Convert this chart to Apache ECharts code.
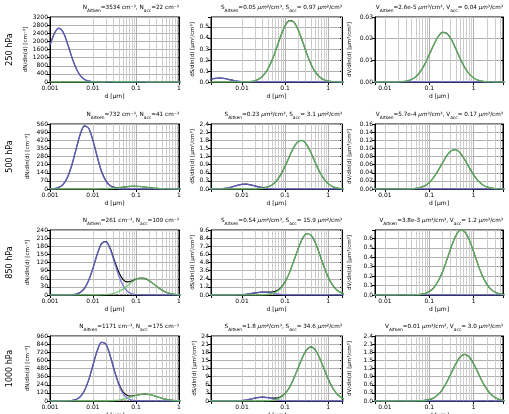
<!DOCTYPE html>
<html>
<head>
<meta charset="utf-8">
<script src="https://cdn.jsdelivr.net/npm/echarts/dist/echarts.min.js"></script>
<style>
html, body { margin: 0; padding: 0; background: #fff; }
#main { width: 509px; height: 414px; }
</style>
</head>
<body>
<div id="main"></div>
<script>
// 粒径网格 d [µm]
const diameters = [0.001, 0.00126, 0.00158, 0.002, 0.00251, 0.00316, 0.00398, 0.00501, 0.00631, 0.00794,
  0.01, 0.0126, 0.0158, 0.02, 0.0251, 0.0316, 0.0398, 0.0501, 0.0631, 0.0794,
  0.1, 0.126, 0.158, 0.2, 0.251, 0.316, 0.398, 0.501, 0.631, 0.794,
  1, 1.26, 1.58, 2, 2.51, 3.16, 3.98, 5.01];

const levels = ['250 hPa', '500 hPa', '850 hPa', '1000 hPa'];

// 250 hPa
const nAit250 = [1807, 2386, 2648, 2470, 1937, 1277, 708, 330, 129, 42,
  12, 3, 0.5, 0, 0, 0, 0, 0, 0, 0,
  0, 0, 0, 0, 0, 0, 0, 0, 0, 0,
  0, 0, 0, 0, 0, 0, 0, 0];
const nAcc250 = [0, 0, 0, 0, 0, 0, 0, 0.04, 0.1, 0.28,
  0.66, 1.4, 2.7, 4.5, 6.9, 9.5, 11.6, 12.6, 12.4, 10.8,
  8.5, 5.9, 3.7, 2.1, 1.05, 0.47, 0.19, 0.07, 0, 0,
  0, 0, 0, 0, 0, 0, 0, 0];
const sAit250 = [0.0053, 0.011, 0.0191, 0.028, 0.0345, 0.0357, 0.0311, 0.0228, 0.014, 0.0072,
  0.0031, 0.0012, 0.0004, 0.0001, 0, 0, 0, 0, 0, 0,
  0, 0, 0, 0, 0, 0, 0, 0, 0, 0,
  0, 0, 0, 0, 0, 0, 0, 0];
const sAcc250 = [0, 0, 0, 0, 0, 0, 0, 0, 0, 0,
  0, 0.0016, 0.0046, 0.012, 0.029, 0.062, 0.118, 0.2, 0.306, 0.417,
  0.51, 0.557, 0.545, 0.477, 0.374, 0.262, 0.164, 0.092, 0.046, 0.021,
  0.0083, 0.003, 0.001, 0, 0, 0, 0, 0];
const vAit250 = [0, 1.7e-6, 3.8e-6, 7.4e-6, 1.2e-5, 1.6e-5, 1.9e-5, 1.8e-5, 1.5e-5, 1.0e-5,
  5.8e-6, 2.8e-6, 1.1e-6, 0, 0, 0, 0, 0, 0, 0,
  0, 0, 0, 0, 0, 0, 0, 0, 0, 0,
  0, 0, 0, 0, 0, 0, 0, 0];
const vAcc250 = [0, 0, 0, 0, 0, 0, 0, 0, 0, 0,
  0, 0, 0, 0, 0.0002, 0.0005, 0.0012, 0.0025, 0.0048, 0.0082,
  0.0126, 0.0171, 0.0209, 0.0229, 0.0224, 0.0196, 0.0153, 0.0107, 0.0067, 0.0038,
  0.0019, 0.00085, 0.00034, 0.00012, 0.00004, 0, 0, 0];

// 500 hPa
const nAit500 = [0.8, 3.6, 12.9, 38.5, 95, 196, 333, 467, 544, 523,
  417, 275, 150, 68, 25.4, 7.9, 2.0, 0.4, 0, 0,
  0, 0, 0, 0, 0, 0, 0, 0, 0, 0,
  0, 0, 0, 0, 0, 0, 0, 0];
const nAcc500 = [0, 0, 0, 0, 0, 0, 0, 0, 0, 0,
  0.13, 0.36, 0.89, 2.0, 3.9, 7.0, 11.2, 16.0, 20.4, 23.4,
  23.9, 21.8, 17.9, 13.1, 8.6, 5.0, 2.6, 1.24, 0.52, 0.2,
  0.07, 0, 0, 0, 0, 0, 0, 0];
const sAit500 = [0, 0, 0.0001, 0.0007, 0.0026, 0.0084, 0.022, 0.049, 0.09, 0.137,
  0.172, 0.179, 0.153, 0.109, 0.064, 0.031, 0.0127, 0.0042, 0.0012, 0.0003,
  0, 0, 0, 0, 0, 0, 0, 0, 0, 0,
  0, 0, 0, 0, 0, 0, 0, 0];
const sAcc500 = [0, 0, 0, 0, 0, 0, 0, 0, 0, 0,
  0, 0, 0, 0, 0.0097, 0.027, 0.067, 0.149, 0.30, 0.53,
  0.84, 1.20, 1.53, 1.75, 1.79, 1.64, 1.34, 0.98, 0.64, 0.38,
  0.198, 0.093, 0.039, 0.015, 0.005, 0, 0, 0];
const vAit500 = [0, 0, 0, 0, 0, 0, 0.00002, 0.00006, 0.00012, 0.00023,
  0.00034, 0.00043, 0.00045, 0.00038, 0.00027, 0.00016, 0.00008, 0.00003, 0, 0,
  0, 0, 0, 0, 0, 0, 0, 0, 0, 0,
  0, 0, 0, 0, 0, 0, 0, 0];
const vAcc500 = [0, 0, 0, 0, 0, 0, 0, 0, 0, 0,
  0, 0, 0, 0, 0, 0, 0.0005, 0.0014, 0.0036, 0.008,
  0.0159, 0.0284, 0.0453, 0.0647, 0.0826, 0.0944, 0.0965, 0.0883, 0.0723, 0.053,
  0.0347, 0.0204, 0.0107, 0.005, 0.0021, 0.0008, 0.0003, 0.0001];

// 850 hPa
const nAit850 = [0, 0, 0, 0, 0.15, 0.7, 2.9, 9.2, 24.6, 54,
  99, 151, 189, 196, 169, 120, 71, 34.5, 13.9, 4.7,
  1.3, 0.3, 0.06, 0, 0, 0, 0, 0, 0, 0,
  0, 0, 0, 0, 0, 0, 0, 0];
const nAcc850 = [0, 0, 0, 0, 0, 0, 0, 0, 0, 0,
  0, 0.18, 0.52, 1.37, 3.3, 6.9, 13.2, 22.6, 34.4, 46.9,
  57.3, 62.7, 61.3, 53.7, 42.0, 29.4, 18.5, 10.3, 5.2, 2.3,
  0.94, 0.34, 0.11, 0, 0, 0, 0, 0];
const sAit850 = [0, 0, 0, 0, 0, 0, 0.0003, 0.0015, 0.0059, 0.019,
  0.051, 0.112, 0.206, 0.312, 0.392, 0.407, 0.349, 0.249, 0.146, 0.071,
  0.029, 0.0096, 0.0027, 0.0006, 0, 0, 0, 0, 0, 0,
  0, 0, 0, 0, 0, 0, 0, 0];
const sAcc850 = [0, 0, 0, 0, 0, 0, 0, 0, 0, 0,
  0, 0, 0, 0, 0, 0.025, 0.075, 0.20, 0.47, 1.0,
  1.91, 3.26, 4.97, 6.78, 8.28, 9.05, 8.85, 7.75, 6.07, 4.25,
  2.67, 1.49, 0.75, 0.34, 0.136, 0.049, 0.015, 0.004];
const vAit850 = [0, 0, 0, 0, 0, 0, 0, 0, 0, 0,
  0.00007, 0.0002, 0.0005, 0.001, 0.0018, 0.0025, 0.0029, 0.0028, 0.0022, 0.0015,
  0.0008, 0.00036, 0.00013, 0.00004, 0, 0, 0, 0, 0, 0,
  0, 0, 0, 0, 0, 0, 0, 0];
const vAcc850 = [0, 0, 0, 0, 0, 0, 0, 0, 0, 0,
  0, 0, 0, 0, 0, 0, 0, 0.0019, 0.0057, 0.015,
  0.036, 0.076, 0.145, 0.247, 0.377, 0.514, 0.628, 0.687, 0.671, 0.588,
  0.46, 0.322, 0.202, 0.113, 0.057, 0.026, 0.010, 0.0037];

// 1000 hPa
const nAit1000 = [0, 0, 0, 0.25, 1.3, 5.7, 20.6, 61.5, 152, 312,
  531, 746, 868, 836, 666, 439, 240, 108, 40.6, 12.6,
  3.2, 0.7, 0.12, 0, 0, 0, 0, 0, 0, 0,
  0, 0, 0, 0, 0, 0, 0, 0];
const nAcc1000 = [0, 0, 0, 0, 0, 0, 0, 0, 0, 0,
  0, 0, 0.39, 1.1, 2.9, 6.6, 13.6, 25.1, 41.5, 61.3,
  80.9, 95.5, 101, 95.5, 80.9, 61.3, 41.5, 25.1, 13.6, 6.6,
  2.9, 1.1, 0.39, 0.12, 0, 0, 0, 0];
const sAit1000 = [0, 0, 0, 0, 0, 0, 0.001, 0.005, 0.02, 0.065,
  0.174, 0.384, 0.703, 1.065, 1.337, 1.389, 1.193, 0.85, 0.5, 0.244,
  0.098, 0.033, 0.009, 0.002, 0, 0, 0, 0, 0, 0,
  0, 0, 0, 0, 0, 0, 0, 0];
const sAcc1000 = [0, 0, 0, 0, 0, 0, 0, 0, 0, 0,
  0, 0, 0, 0, 0, 0.024, 0.077, 0.22, 0.57, 1.31,
  2.7, 4.98, 8.2, 12.1, 16.0, 18.9, 20, 18.9, 16.0, 12.1,
  8.2, 4.98, 2.7, 1.31, 0.57, 0.22, 0.077, 0.024];
const vAit1000 = [0, 0, 0, 0, 0, 0, 0, 0, 0.00003, 0.0001,
  0.00035, 0.0009, 0.0021, 0.0038, 0.0057, 0.0072, 0.0074, 0.0064, 0.0046, 0.0027,
  0.0013, 0.0005, 0.00018, 0.00005, 0, 0, 0, 0, 0, 0,
  0, 0, 0, 0, 0, 0, 0, 0];
const vAcc1000 = [0, 0, 0, 0, 0, 0, 0, 0, 0, 0,
  0, 0, 0, 0, 0, 0, 0, 0.002, 0.0066, 0.019,
  0.049, 0.113, 0.232, 0.428, 0.707, 1.044, 1.378, 1.627, 1.72, 1.627,
  1.378, 1.044, 0.707, 0.428, 0.232, 0.113, 0.049, 0.019];

// 标题中的积分值
const nAitTot = ['3534', '732', '261', '1171'];
const nAccTot = ['22', '41', '109', '175'];
const sAitTot = ['0.05', '0.23', '0.54', '1.8'];
const sAccTot = ['0.97', '3.1', '15.9', '34.6'];
const vAitTot = ['2.6e-5', '5.7e-4', '3.8e-3', '0.01'];
const vAccTot = ['0.04', '0.17', '1.2', '3.0'];

// y 轴刻度
const yMax = [[3200, 0.59, 0.03], [560, 2.4, 0.16], [240, 9.6, 0.69], [960, 24, 2.4]];
const yStep = [[400, 0.1, 0.01], [70, 0.3, 0.02], [30, 1.2, 0.1], [120, 3, 0.3]];
const yDigits = [[0, 1, 2], [0, 1, 2], [0, 1, 1], [0, 0, 1]];

const aitken = [
  [nAit250, sAit250, vAit250],
  [nAit500, sAit500, vAit500],
  [nAit850, sAit850, vAit850],
  [nAit1000, sAit1000, vAit1000]
];
const accum = [
  [nAcc250, sAcc250, vAcc250],
  [nAcc500, sAcc500, vAcc500],
  [nAcc850, sAcc850, vAcc850],
  [nAcc1000, sAcc1000, vAcc1000]
];

// 布局
const FONT = 'DejaVu Sans';
const colLeft = [50, 211, 375];
const colWidth = [129, 131, 128];
const rowTop = [17, 124, 230, 336];
const plotH = 65;
const xRange = [[0.001, 1], [0.0019, 2.1], [0.006, 4.6]];
const yNames = ['dN/dln(d) [cm\u207B\u00B3]', 'dS/dln(d) [\u00B5m\u00B2/cm\u00B3]', 'dV/dln(d) [\u00B5m\u00B3/cm\u00B3]'];
const yNameGap = [19, 13, 22];

function titleText(r, c) {
  if (c === 0) {
    return '{m|N}{s|Aitken}{m|=' + nAitTot[r] + ' cm\u207B\u00B3, N}{s|acc}{m|=' + nAccTot[r] + ' cm\u207B\u00B3}';
  }
  const q = c === 1 ? 'S' : 'V';
  const sq = c === 1 ? '\u00B2' : '\u00B3';
  const a = c === 1 ? sAitTot[r] : vAitTot[r];
  const b = c === 1 ? sAccTot[r] : vAccTot[r];
  return '{m|' + q + '}{s|Aitken}{m|=' + a + ' }{i|\u03BCm}{m|' + sq + '/cm\u00B3, ' + q + '}{s|acc}{m|= ' + b + ' }{i|\u03BCm}{m|' + sq + '/cm\u00B3}';
}

function minorTicks(lo, hi) {
  const out = [];
  for (let e = -4; e <= 1; e++) {
    for (let m = 2; m <= 9; m++) {
      const v = m * Math.pow(10, e);
      if (v > lo * 1.001 && v < hi * 0.999) out.push({ xAxis: v });
    }
  }
  return out;
}

const chart = echarts.init(document.getElementById('main'));

const grid = [], xAxis = [], yAxis = [], series = [], title = [], graphic = [];

for (let r = 0; r < 4; r++) {
  for (let c = 0; c < 3; c++) {
    const idx = r * 3 + c;
    const step = yStep[r][c];
    const digits = yDigits[r][c];

    grid.push({
      left: colLeft[c], top: rowTop[r], width: colWidth[c], height: plotH,
      show: true, borderColor: '#000', borderWidth: 1, backgroundColor: 'transparent',
      outerBoundsMode: 'none', containLabel: false
    });

    xAxis.push({
      gridIndex: idx, type: 'log', logBase: 10,
      min: xRange[c][0], max: xRange[c][1],
      axisLine: { show: true, lineStyle: { color: '#000', width: 1 } },
      axisTick: { show: true, length: 3, inside: false, lineStyle: { color: '#000' } },
      axisLabel: {
        fontSize: 6, color: '#000', margin: 3, fontFamily: FONT,
        formatter: v => {
          const l = Math.log10(v);
          return Math.abs(l - Math.round(l)) < 1e-6 ? String(Math.pow(10, Math.round(l))) : '';
        }
      },
      splitLine: { show: true, lineStyle: { color: '#b0b0b0', width: 1 } },
      name: 'd [\u00B5m]', nameLocation: 'middle', nameGap: 11,
      nameTextStyle: { fontSize: 6, color: '#000', fontFamily: FONT }
    });

    // 左侧主 y 轴
    yAxis.push({
      gridIndex: idx, type: 'value', min: 0, max: yMax[r][c], interval: step,
      axisLine: { show: true, lineStyle: { color: '#000', width: 1 } },
      axisTick: { show: true, length: 3, lineStyle: { color: '#000' } },
      axisLabel: {
        fontSize: 6, color: '#000', margin: 2, fontFamily: FONT,
        formatter: v => Math.abs(v / step - Math.round(v / step)) < 1e-6 ? v.toFixed(digits) : ''
      },
      splitLine: { show: true, lineStyle: { color: '#b0b0b0', width: 1 } },
      name: yNames[c], nameLocation: 'middle', nameGap: yNameGap[c],
      nameTextStyle: { fontSize: 5.5, color: '#000', fontFamily: FONT }
    });
  }
}

// 右侧只画刻度的 y 轴
for (let r = 0; r < 4; r++) {
  for (let c = 0; c < 3; c++) {
    const idx = r * 3 + c;
    yAxis.push({
      gridIndex: idx, type: 'value', position: 'right', min: 0, max: yMax[r][c], interval: yStep[r][c],
      axisLine: { show: true, lineStyle: { color: '#000', width: 1 } },
      axisTick: { show: true, inside: true, length: 2, lineStyle: { color: '#000' } },
      axisLabel: { show: false },
      splitLine: { show: false }
    });
  }
}

for (let r = 0; r < 4; r++) {
  for (let c = 0; c < 3; c++) {
    const idx = r * 3 + c;
    const ait = aitken[r][c];
    const acc = accum[r][c];

    // 次刻度网格线
    series.push({
      type: 'line', xAxisIndex: idx, yAxisIndex: idx, silent: true,
      data: [[xRange[c][0], 0]], symbol: 'none', lineStyle: { width: 0 }, z: 1,
      markLine: {
        silent: true, z: 1, symbol: ['none', 'none'], label: { show: false },
        lineStyle: { color: '#cccccc', width: 1, type: 'solid' },
        emphasis: { disabled: true },
        data: minorTicks(xRange[c][0], xRange[c][1])
      }
    });
    series.push({
      name: 'total', type: 'line', xAxisIndex: idx, yAxisIndex: idx, symbol: 'none',
      smooth: 0.3, color: '#000', lineStyle: { color: '#000', width: 1.1 }, z: 2,
      data: diameters.map((d, i) => [d, ait[i] + acc[i]])
    });
    series.push({
      name: 'Aitken', type: 'line', xAxisIndex: idx, yAxisIndex: idx, symbol: 'none',
      smooth: 0.3, color: '#6a6ad2', lineStyle: { color: '#6a6ad2', width: 1.4, opacity: 0.85 }, z: 3,
      data: diameters.map((d, i) => [d, ait[i]])
    });
    series.push({
      name: 'acc', type: 'line', xAxisIndex: idx, yAxisIndex: idx, symbol: 'none',
      smooth: 0.3, color: '#6cc46c', lineStyle: { color: '#6cc46c', width: 1.4, opacity: 0.85 }, z: 4,
      data: diameters.map((d, i) => [d, acc[i]])
    });

    title.push({
      text: titleText(r, c),
      right: 509 - (colLeft[c] + colWidth[c]), top: rowTop[r] - 14, padding: 0,
      textStyle: {
        fontSize: 5.7, fontWeight: 'normal', color: '#000', fontFamily: FONT,
        rich: {
          m: { fontSize: 5.7, lineHeight: 10, fontFamily: FONT, color: '#000' },
          i: { fontSize: 5.7, lineHeight: 10, fontFamily: FONT, fontStyle: 'italic', color: '#000' },
          s: { fontSize: 4.4, lineHeight: 10, fontFamily: FONT, verticalAlign: 'bottom', color: '#000' }
        }
      }
    });
  }
  graphic.push({
    type: 'text', x: 10, y: rowTop[r] + plotH / 2, rotation: Math.PI / 2,
    style: {
      text: levels[r], font: '8px "DejaVu Sans"', fill: '#000',
      textAlign: 'center', textVerticalAlign: 'middle', align: 'center', verticalAlign: 'middle'
    }
  });
}

chart.setOption({
  animation: false,
  backgroundColor: '#fff',
  title: title,
  grid: grid,
  xAxis: xAxis,
  yAxis: yAxis,
  series: series,
  graphic: graphic
});

window.addEventListener('resize', () => {
  chart.resize();
});
</script>
</body>
</html>
